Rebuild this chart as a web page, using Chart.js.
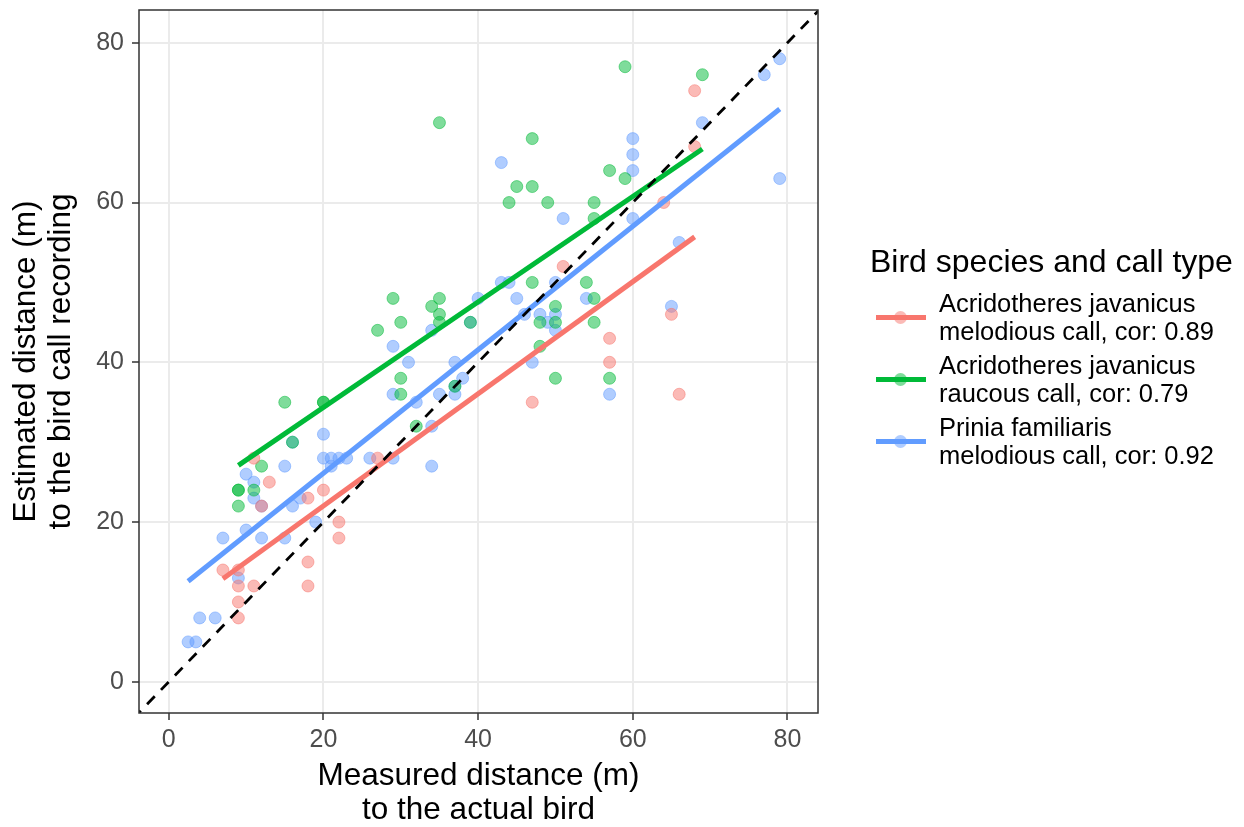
<!DOCTYPE html>
<html>
<head>
<meta charset="utf-8">
<script src="https://cdn.jsdelivr.net/npm/chart.js@4.4.1/dist/chart.umd.min.js"></script>
<style>
  body { margin: 0; background: #fff; font-family: "Liberation Sans", Arial, sans-serif; }
  #wrap { position: relative; width: 1244px; height: 827px; }
  #legend { position: absolute; left: 870px; top: 243px; color: #000; }
  #legend .title { font-size: 32px; line-height: 36px; margin-bottom: 10px; white-space: nowrap; }
  #legend .item { position: relative; height: 62px; padding-left: 69px; font-size: 25.5px; line-height: 28px; white-space: nowrap; }
  #legend .key { position: absolute; left: 6px; top: 26px; width: 50px; height: 5px; }
  #legend .dot { position: absolute; left: 18px; top: -4px; width: 13px; height: 13px; border-radius: 50%; opacity: 0.5; }
</style>
</head>
<body>
<div id="wrap">
  <canvas id="chart" width="1244" height="827"></canvas>
  <div id="legend"></div>
</div>
<script>
var xTicks = [0, 20, 40, 60, 80]
var yTicks = [0, 20, 40, 60, 80]

var seriesNames = [
  ["Acridotheres javanicus", "melodious call, cor: 0.89"],
  ["Acridotheres javanicus", "raucous call, cor: 0.79"],
  ["Prinia familiaris", "melodious call, cor: 0.92"]
]
var seriesColors = ["#F8766D", "#00BA38", "#619CFF"]
var pointColors = ["rgba(248,118,109,0.5)", "rgba(0,186,56,0.5)", "rgba(97,156,255,0.5)"]

// measured distance, estimated distance
var melodiousX = [7, 9, 9, 11, 9, 9, 11, 12, 13, 18, 20, 22, 22, 18, 18, 27, 47, 51, 57, 57, 64, 65, 66, 68, 68]
var melodiousY = [14, 14, 12, 12, 10, 8, 28, 22, 25, 23, 24, 20, 18, 15, 12, 28, 35, 52, 43, 40, 60, 46, 36, 74, 67]

var raucousX = [9, 9, 9, 11, 12, 15, 16, 20, 20, 27, 29, 30, 30, 30, 32, 34, 35, 35, 35, 35, 37, 39, 44, 45, 47, 47, 47, 48, 48, 49, 50, 50, 50, 54, 55, 55, 55, 55, 57, 57, 59, 59, 69]
var raucousY = [24, 24, 22, 24, 27, 35, 30, 35, 35, 44, 48, 45, 38, 36, 32, 47, 48, 46, 45, 70, 37, 45, 60, 62, 62, 68, 50, 45, 42, 60, 47, 45, 38, 50, 60, 58, 48, 45, 64, 38, 63, 77, 76]

var priniaX = [2.5, 3.5, 4, 6, 7, 9, 10, 10, 11, 11, 12, 12, 15, 15, 16, 16, 17, 19, 20, 20, 21, 22, 23, 21, 26, 29, 29, 29, 31, 32, 34, 34, 34, 35, 37, 37, 37, 38, 39, 40, 43, 44, 43, 45, 46, 48, 49, 50, 50, 50, 47, 51, 54, 57, 60, 60, 60, 60, 65, 66, 69, 77, 79, 79]
var priniaY = [5, 5, 8, 8, 18, 13, 26, 19, 25, 23, 22, 18, 27, 18, 30, 22, 23, 20, 31, 28, 28, 28, 28, 27, 28, 28, 36, 42, 40, 35, 32, 27, 44, 36, 40, 36, 37, 38, 45, 48, 50, 50, 65, 48, 46, 46, 45, 50, 46, 44, 40, 58, 48, 36, 68, 66, 64, 58, 47, 55, 70, 76, 78, 63]

// linear fit lines, end points
var fitX = [[7, 68], [9, 69], [2.5, 79]]
var fitY = [[12.9, 55.7], [27.1, 66.7], [12.6, 71.7]]

var identity = [-10, 100]

function toPoints(xs, ys) {
  return xs.map((x, i) => ({x: x, y: ys[i]}))
}

var pointSets = [[melodiousX, melodiousY], [raucousX, raucousY], [priniaX, priniaY]]
var datasets = []

datasets.push({
  type: 'line',
  data: identity.map(v => ({x: v, y: v})),
  borderColor: '#000',
  borderWidth: 2.8,
  borderDash: [11, 9],
  pointRadius: 0,
  order: 0
})

fitX.forEach((xs, i) => {
  datasets.push({
    type: 'line',
    data: toPoints(xs, fitY[i]),
    borderColor: seriesColors[i],
    borderWidth: 5,
    pointRadius: 0,
    order: 1
  })
})

pointSets.forEach((s, i) => {
  datasets.push({
    type: 'scatter',
    data: toPoints(s[0], s[1]),
    backgroundColor: pointColors[i],
    borderColor: pointColors[i],
    borderWidth: 1,
    pointRadius: 6,
    order: 2
  })
})

var panelBorder = {
  id: 'panelBorder',
  afterDraw(chart) {
    var a = chart.chartArea, ctx = chart.ctx
    ctx.save()
    ctx.strokeStyle = '#333333'
    ctx.lineWidth = 1.5
    ctx.strokeRect(a.left, a.top, a.right - a.left, a.bottom - a.top)
    ctx.restore()
  }
}

var tickFont = {family: 'Liberation Sans', size: 25}
var xTitleFont = {family: 'Liberation Sans', size: 31.5, lineHeight: 1.08}
var yTitleFont = {family: 'Liberation Sans', size: 31.5, lineHeight: 1.1}

new Chart(document.getElementById('chart').getContext('2d'), {
  data: {datasets: datasets},
  plugins: [panelBorder],
  options: {
    responsive: false,
    animation: false,
    layout: {padding: {left: 0, top: 10, right: 426, bottom: 0}},
    plugins: {legend: {display: false}, tooltip: {enabled: false}},
    scales: {
      x: {
        type: 'linear',
        min: -3.85,
        max: 83.95,
        afterBuildTicks: s => { s.ticks = xTicks.map(v => ({value: v})) },
        afterFit: s => { s.height = 114; s.paddingLeft = 0; s.paddingRight = 0 },
        ticks: {color: '#4d4d4d', font: tickFont, padding: 5, maxRotation: 0},
        grid: {color: '#ebebeb', lineWidth: 2, tickColor: '#333333', tickWidth: 1.5, tickLength: 7},
        border: {display: false},
        title: {display: true, text: ['Measured distance (m)', 'to the actual bird'], color: '#000', font: xTitleFont, padding: {top: 0, bottom: 0}}
      },
      y: {
        type: 'linear',
        min: -3.9,
        max: 84.1,
        afterBuildTicks: s => { s.ticks = yTicks.map(v => ({value: v})) },
        afterFit: s => { s.width = 139; s.paddingTop = 0; s.paddingBottom = 0 },
        ticks: {color: '#4d4d4d', font: tickFont, padding: 8},
        grid: {color: '#ebebeb', lineWidth: 2, tickColor: '#333333', tickWidth: 1.5, tickLength: 7},
        border: {display: false},
        title: {display: true, text: ['Estimated distance (m)', 'to the bird call recording'], color: '#000', font: yTitleFont, padding: {top: 9, bottom: 0}}
      }
    }
  }
})

var legend = document.getElementById('legend')
var html = '<div class="title">Bird species and call type</div>'
seriesNames.forEach((lines, i) => {
  html += '<div class="item"><div class="key" style="background:' + seriesColors[i] + '">' +
    '<div class="dot" style="background:' + seriesColors[i] + '"></div></div>' +
    lines.join('<br>') + '</div>'
})
legend.innerHTML = html
</script>
</body>
</html>
